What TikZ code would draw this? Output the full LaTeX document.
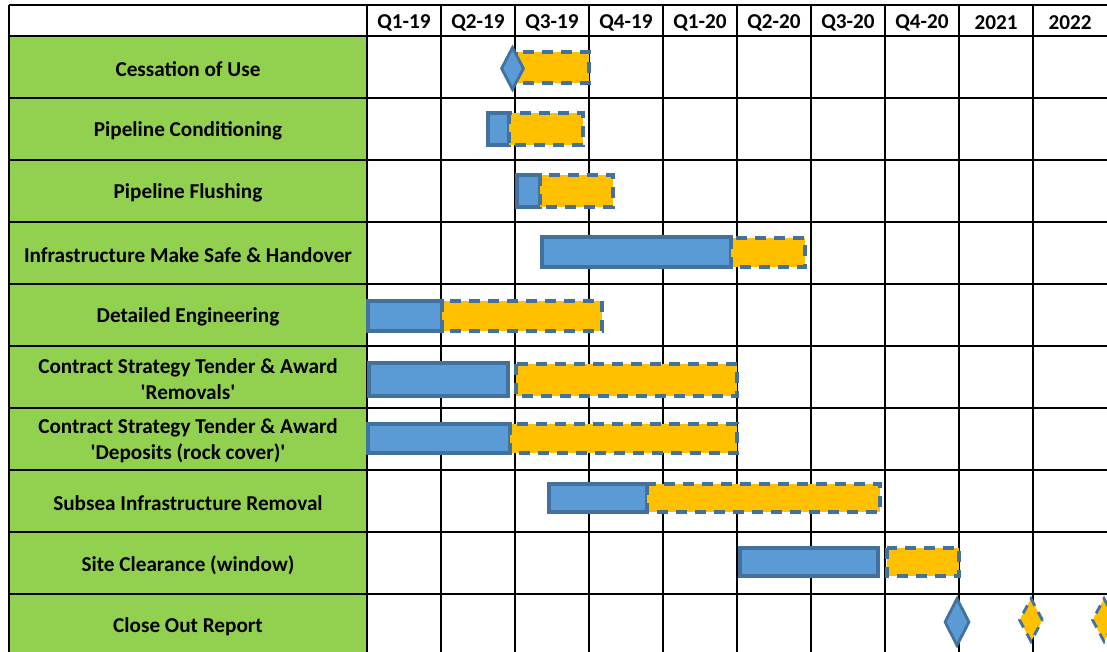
\documentclass[tikz,border=0pt]{standalone}
\usepackage{fontspec}
\setmainfont{Carlito}[Ligatures=TeXOff]
\usetikzlibrary{shapes.geometric}
\definecolor{lgreen}{HTML}{92D050}
\definecolor{bfill}{HTML}{5B9BD5}
\definecolor{bline}{HTML}{41719C}
\definecolor{ofill}{HTML}{FFC000}
\tikzset{
  gridline/.style={line width=1.8pt, black},
  donebar/.style={fill=bfill, draw=bline, line width=3.2pt},
  planbar/.style={fill=ofill, draw=bline, line width=3.2pt, dash pattern=on 11pt off 8pt},
  lbl/.style={font=\bfseries\fontsize{21.2}{26}\selectfont, align=center, text=black},
  hdr/.style={font=\bfseries\fontsize{21.2}{26}\selectfont, text=black},
  donedia/.style={diamond, fill=bfill, draw=bline, line width=2.8pt, inner sep=0pt, minimum width=23pt, minimum height=43pt},
  plandia/.style={diamond, fill=ofill, draw=bline, line width=2.8pt, inner sep=0pt, minimum width=24pt, minimum height=44pt, dash pattern=on 9pt off 7pt},
}
\begin{document}
\begin{tikzpicture}[x=1pt,y=-1pt]
\useasboundingbox (0,0) rectangle (1107,652);
\begin{scope}
\clip (0,0) rectangle (1107,652);
% green label column
\fill[lgreen] (9,36) rectangle (367,660);
\fill[white] (9,5) rectangle (1120,36);
% horizontal lines
\foreach \yy in {5,36,98,160,222,284,346,408,470,532,594}
  \draw[gridline] (9,\yy) -- (1120,\yy);
% vertical lines
\draw[gridline] (9,5) -- (9,660);
\foreach \xx in {367,441,515,589,663,737,811,885,959,1033}
  \draw[gridline] (\xx,5) -- (\xx,660);
\draw[line width=2.2pt] (959,5) -- (959,660);
% header
\foreach \t [count=\i] in {Q1-19,Q2-19,Q3-19,Q4-19,Q1-20,Q2-20,Q3-20,Q4-20,2021,2022}
  \node[hdr] (h\i) at ({367+74*\i-37},23) {\t};
% labels
\node[lbl] (r1) at (188,69) {Cessation of Use};
\node[lbl] (r2) at (188,131) {Pipeline Conditioning};
\node[lbl] (r3) at (188,193) {Pipeline Flushing};
\node[lbl] (r4) at (188,255) {Infrastructure Make Safe \& Handover};
\node[lbl] (r5) at (188,317) {Detailed Engineering};
\node[lbl] (r6) at (188,379) {Contract Strategy Tender \& Award\\'Removals'};
\node[lbl] (r7) at (188,441) {Contract Strategy Tender \& Award\\'Deposits (rock cover)'};
\node[lbl] (r8) at (188,503) {Subsea Infrastructure Removal};
\node[lbl] (r9) at (188,565) {Site Clearance (window)};
\node[lbl] (r10) at (188,627) {Close Out Report};
% bars
\draw[planbar] (516,52) rectangle (589,83);
\node[donedia] (m1) at (512.5,68.5) {};
\draw[donebar] (488,113) rectangle (509,145);
\draw[planbar] (509,113) rectangle (583,145);
\draw[donebar] (517,175) rectangle (540,207);
\draw[planbar] (540,175) rectangle (613,207);
\draw[donebar] (542,237) rectangle (731,267);
\draw[planbar] (731,238) rectangle (805,267);
\draw[donebar] (368,301) rectangle (442,331);
\draw[planbar] (442,301) rectangle (602,331);
\draw[donebar] (369,363) rectangle (508,396);
\draw[planbar] (516,364) rectangle (737,396);
\draw[donebar] (368,424) rectangle (510,453);
\draw[planbar] (510,424) rectangle (737,453);
\draw[donebar] (549,484) rectangle (647,512);
\draw[planbar] (647,484) rectangle (880,512);
\draw[donebar] (740,548) rectangle (878,576);
\draw[planbar] (887,548) rectangle (959,576);
\node[donedia, minimum width=25pt, minimum height=48pt] (m10) at (957,622) {};
\node[plandia] (p10a) at (1031,620) {};
\node[plandia] (p10b) at (1104,620) {};
\end{scope}
\end{tikzpicture}
\end{document}
